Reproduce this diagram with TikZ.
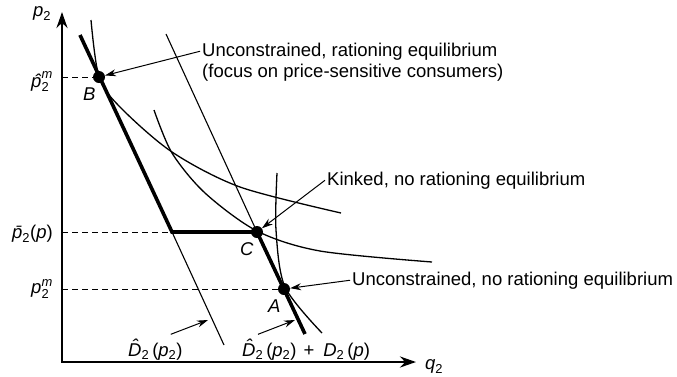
\documentclass[tikz,border=0pt]{standalone}
\usepackage{amsmath}
\usepackage{fontspec}
\setmainfont{Liberation Sans}
\usetikzlibrary{positioning, arrows.meta}
\newcommand{\itv}[1]{\text{\itshape #1}} % italic variable in the text font
\tikzset{
  axis/.style={line width=2.6pt, line join=miter, % the two axes
    {Stealth[length=16pt, width=11pt]}-{Stealth[length=16pt, width=11pt]}},
  demand/.style={line width=3.6pt, line join=miter}, % residual demand
  thinline/.style={line width=1.1pt},
  isoprofit/.style={line width=1.3pt},
  guide/.style={dash pattern=on 6pt off 4pt, line width=0.9pt},
  eq/.style={circle, fill=black, inner sep=0pt, minimum size=12pt},
  eqname/.style={font=\fontsize{18.5}{22}\selectfont\itshape, inner sep=1pt},
  callout/.style={font=\fontsize{18.5}{22}\selectfont, inner sep=2pt,
    text height=13.5pt, text depth=4pt},
  pointer/.style={line width=1pt, -{Stealth[length=11pt, width=7pt]}},
}

\begin{document}
\begin{tikzpicture}[x=1pt, y=-1pt]
  \useasboundingbox (0,0) rectangle (677,376);

  % axes
  \coordinate (O) at (62,362);
  \coordinate (ymax) at (62,12);
  \coordinate (xmax) at (416,362);
  \draw[axis] (ymax) -- (O) -- (xmax);
  \node[callout, anchor=base west] (p2) at (31,16) {$\itv{p}_{\text{2}}$};
  \node[callout, anchor=base west] (q2) at (423,369) {$\itv{q}_{\text{2}}$};

  % equilibria
  \node[eq] (B) at (99,77) {};
  \node[eq] (C) at (257,232) {};
  \node[eq] (A) at (284,289) {};
  \node[eqname, below left=5pt and -2pt of B] (nameB) {B};
  \node[eqname, below left=5pt and -2pt of C] (nameC) {C};
  \node[eqname, below left=5pt and -2pt of A] (nameA) {A};

  % price levels
  \draw[guide] (O |- B) -- (B);
  \draw[guide] (O |- C) -- (C);
  \draw[guide] (O |- A) -- (A);
  \node[callout, anchor=base east] (phat) at (55,87) {$\itv{\^p}_{\text{2}}^{\itv{m}}$};
  \node[callout, anchor=base east] (pbar) at (55,238) {$\itv{\=p}_{\text{2}}\text{(}\itv{p}\text{)}$};
  \node[callout, anchor=base east] (pm) at (55,293) {$\itv{p}_{\text{2}}^{\itv{m}}$};

  % isoprofit curves
  \draw[isoprofit] plot[smooth] coordinates {(91,20) (99,77) (120,107)
    (172,152) (240,187) (341,213)};
  \draw[isoprofit] plot[smooth] coordinates {(154,110) (172,153)
    (205,193) (257,231) (320,251) (432,262)};
  \draw[isoprofit] plot[smooth] coordinates {(277,173) (276,230)
    (285,287) (322,333)};

  % demand lines
  \coordinate (dtop) at (80,35);
  \coordinate (kink) at (172,232);
  \coordinate (dend) at (224,345);
  \coordinate (stop) at (166,34);
  \coordinate (send) at (305,334);
  \draw[thinline] (kink) -- (dend);
  \draw[thinline] (stop) -- (C.center);
  \draw[demand] (dtop) -- (kink) -- (C.center) -- (send);

  % callouts
  \node[callout, anchor=base west] (ratB) at (200,56) {Unconstrained, rationing equilibrium};
  \node[callout, below right=0pt and 0pt of ratB.south west] (ratB2) {(focus on price-sensitive consumers)};
  \draw[pointer] (ratB.west) -- (B);
  \node[callout, anchor=base west] (kinkC) at (325,185) {Kinked, no rationing equilibrium};
  \draw[pointer] (kinkC.west) -- (C);
  \node[callout, anchor=base west] (norA) at (350,285) {Unconstrained, no rationing equilibrium};
  \draw[pointer] (norA.west) -- (A);

  % curve names
  \node[callout, anchor=base west] (labD) at (126,356)
    {\itv{\^D}$_{\text{2}}$\hspace{3pt}(\itv{p}$_{\text{2}}$)};
  \node[callout, anchor=base west] (labS) at (240,356)
    {\itv{\^D}$_{\text{2}}$\hspace{3pt}(\itv{p}$_{\text{2}}$)\hspace{7pt}+\hspace{9pt}\itv{D}$_{\text{2}}$\hspace{3pt}(\itv{p})};
  \coordinate (dtip) at (208,320);
  \coordinate (stip) at (295,320);
  \draw[pointer] ([xshift=-14pt, yshift=6pt]labD.north east) -- (dtip);
  \draw[pointer] ([xshift=18pt, yshift=6pt]labS.north west) -- (stip);
\end{tikzpicture}
\end{document}
